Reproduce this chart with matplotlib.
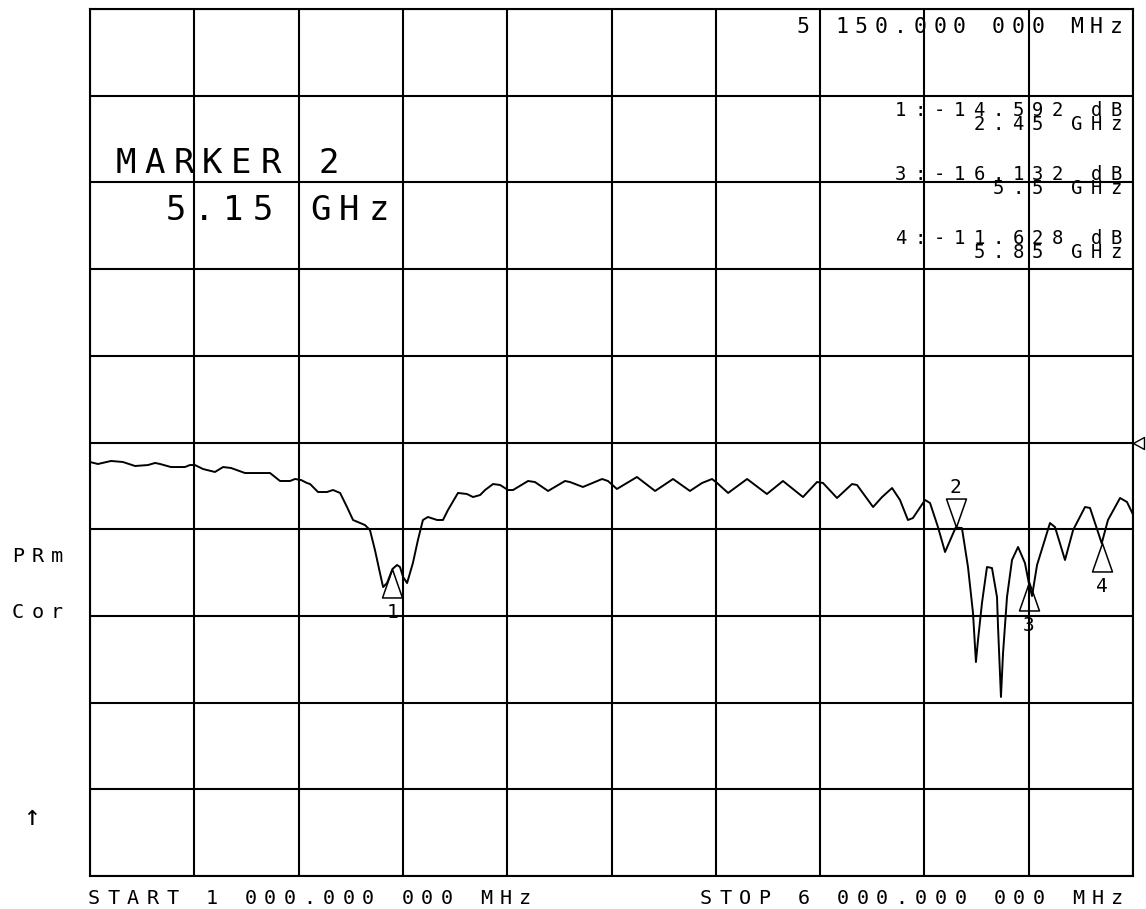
import matplotlib
matplotlib.use('Agg')
import matplotlib.pyplot as plt
import numpy as np

# sweep settings (network analyzer plot, S11 log mag)
f_start_mhz = 1000.0
f_stop_mhz = 6000.0
ref_db = 0.0
db_per_div = 10.0

# trace
freq_ghz = [
    1.000, 1.038, 1.101, 1.158, 1.216, 1.278, 1.312, 1.336, 1.388, 1.455,
    1.479, 1.503, 1.542, 1.599, 1.638, 1.676, 1.743, 1.863, 1.911, 1.959,
    1.983, 2.012, 2.040, 2.055, 2.093, 2.136, 2.165, 2.199, 2.232, 2.261,
    2.318, 2.342, 2.366, 2.390, 2.405, 2.424, 2.450, 2.472, 2.486, 2.501,
    2.520, 2.548, 2.572, 2.596, 2.620, 2.664, 2.692, 2.716, 2.764, 2.807,
    2.836, 2.870, 2.894, 2.932, 2.966, 3.004, 3.028, 3.100, 3.133, 3.196,
    3.277, 3.301, 3.363, 3.455, 3.483, 3.526, 3.622, 3.709, 3.795, 3.876,
    3.934, 3.982, 4.006, 4.059, 4.150, 4.245, 4.322, 4.418, 4.485, 4.514,
    4.581, 4.653, 4.677, 4.754, 4.797, 4.845, 4.883, 4.921, 4.945, 5.003,
    5.027, 5.065, 5.099, 5.150, 5.180, 5.209, 5.233, 5.247, 5.257, 5.276,
    5.300, 5.324, 5.348, 5.353, 5.367, 5.377, 5.396, 5.420, 5.449, 5.482,
    5.500, 5.516, 5.540, 5.602, 5.626, 5.674, 5.713, 5.770, 5.794, 5.850,
    5.880, 5.938, 5.971, 6.000]
s11_db = [
    -2.25, -2.48, -2.13, -2.25, -2.71, -2.60, -2.36, -2.48, -2.83, -2.83,
    -2.60, -2.60, -3.06, -3.40, -2.83, -2.94, -3.52, -3.52, -4.44, -4.44,
    -4.21, -4.33, -4.67, -4.79, -5.71, -5.71, -5.48, -5.82, -7.44, -8.94,
    -9.52, -10.09, -12.40, -15.05, -16.67, -16.21, -14.59, -14.13, -14.36, -15.51,
    -16.21, -13.90, -11.25, -8.94, -8.59, -8.94, -8.94, -7.79, -5.82, -5.94,
    -6.29, -6.06, -5.48, -4.79, -4.90, -5.48, -5.48, -4.44, -4.56, -5.59,
    -4.44, -4.56, -5.13, -4.21, -4.44, -5.36, -3.98, -5.59, -4.21, -5.59,
    -4.67, -4.21, -4.67, -5.82, -4.21, -5.94, -4.44, -6.29, -4.56, -4.67,
    -6.40, -4.79, -4.90, -7.44, -6.29, -5.25, -6.63, -8.94, -8.71, -6.63,
    -6.98, -9.75, -12.63, -9.80, -9.87, -14.36, -19.67, -25.32, -22.78, -18.51,
    -14.36, -14.48, -17.82, -21.28, -29.35, -24.28, -17.82, -13.55, -12.05, -13.90,
    -16.13, -17.71, -14.13, -9.29, -9.75, -13.55, -10.09, -7.44, -7.55, -11.63,
    -8.94, -6.40, -6.86, -8.30]

# markers
mk_num = [1, 2, 3, 4]
mk_ghz = [2.45, 5.15, 5.5, 5.85]
mk_db = [-14.592, -9.8, -16.132, -11.628]
active_mk = 2

MONO = 'DejaVu Sans Mono'
W, H = 1146, 909

fig = plt.figure(figsize=(W / 100, H / 100), dpi=100)
ax = fig.add_axes([90 / W, 33 / H, 1043 / W, 867 / H])

f0, f1 = f_start_mhz / 1000, f_stop_mhz / 1000
ax.plot(freq_ghz, s11_db, color='k', lw=1.4)
ax.set_xlim(f0, f1)
ax.set_ylim(ref_db - 5 * db_per_div, ref_db + 5 * db_per_div)
ax.set_xticks(np.linspace(f0, f1, 11))
ax.set_yticks(np.linspace(ref_db - 5 * db_per_div, ref_db + 5 * db_per_div, 11))
ax.tick_params(length=0, labelbottom=False, labelleft=False)
ax.grid(True, color='k', lw=1.5)
for sp in ax.spines.values():
    sp.set_linewidth(1.5)

# marker triangles: tip sits on the trace
up_tri = [(0, 0), (-10, -28.5), (10, -28.5), (0, 0)]
down_tri = [(0, 0), (-10, 28.5), (10, 28.5), (0, 0)]
for n, f, d in zip(mk_num, mk_ghz, mk_db):
    if n == active_mk:
        ax.plot(f, d, marker=down_tri, ms=41, mfc='none', mec='k', mew=1.1)
        ax.annotate(str(n), (f, d), xytext=(0, 24.5), textcoords='offset points',
                    ha='center', va='baseline', fontsize=14, family=MONO)
    else:
        ax.plot(f, d, marker=up_tri, ms=41, mfc='none', mec='k', mew=1.1)
        ax.annotate(str(n), (f, d), xytext=(0, -35), textcoords='offset points',
                    ha='center', va='baseline', fontsize=14, family=MONO)

# reference position arrow on the right edge
ax.plot(f1, ref_db, marker=[(0, 0), (11, 6), (11, -6), (0, 0)], ms=15.8,
        mfc='none', mec='k', mew=1.0, clip_on=False)


def hp_text(s, x0, base, pitch, size):
    # fixed pitch plotter text, one cell per character (pixel coords, y from top)
    for i, ch in enumerate(s):
        if ch.strip():
            fig.text((x0 + pitch * (i + 0.5)) / W, 1 - base / H, ch,
                     ha='center', va='baseline', fontsize=size, family=MONO)


def hp_text_right(s, x1, base, pitch, size):
    hp_text(s, x1 - pitch * len(s), base, pitch, size)


def hp_block_right(line1, line2, x1, top, pitch, size, spacing):
    # two tightly stacked lines, right justified, one column of text per cell
    n = max(len(line1), len(line2))
    line1, line2 = line1.rjust(n), line2.rjust(n)
    x0 = x1 - pitch * n
    for i, (a, b) in enumerate(zip(line1, line2)):
        if (a + b).strip():
            fig.text((x0 + pitch * (i + 0.5)) / W, 1 - top / H, a + '\n' + b,
                     ha='center', va='top', multialignment='center',
                     linespacing=spacing, fontsize=size, family=MONO)


def fmt_mhz(mhz):
    ip, fp = f"{mhz:.6f}".split('.')
    ip = f"{int(ip):,}".replace(',', ' ')
    return f"{ip}.{fp[:3]} {fp[3:]} MHz"


ia = mk_num.index(active_mk)

# active marker readout
hp_text_right(fmt_mhz(mk_ghz[ia] * 1000), 1126, 33, 19.6, 15.5)
hp_text(f"MARKER {active_mk}", 111, 173, 29, 24.5)
hp_text(f"{mk_ghz[ia]:g} GHz", 161, 220, 29, 24.5)

# other marker readouts
top = 101
for n, f, d in zip(mk_num, mk_ghz, mk_db):
    if n == active_mk:
        continue
    hp_block_right(f"{n}:{d:.3f} dB", f"{f:g} GHz", 1126, top, 19.6, 13.6, 0.66)
    top += 64

# left side annotations
hp_text("PRm", 8, 562, 19.5, 14.5)
hp_text("Cor", 8, 618, 19.5, 14.5)
hp_text("\u2191", 22, 825, 19.5, 20)

# start / stop
hp_text("START " + fmt_mhz(f_start_mhz), 84, 904, 19.6, 14.5)
hp_text_right("STOP " + fmt_mhz(f_stop_mhz), 1127, 904, 19.6, 14.5)

fig.savefig('out.png', dpi=100)
